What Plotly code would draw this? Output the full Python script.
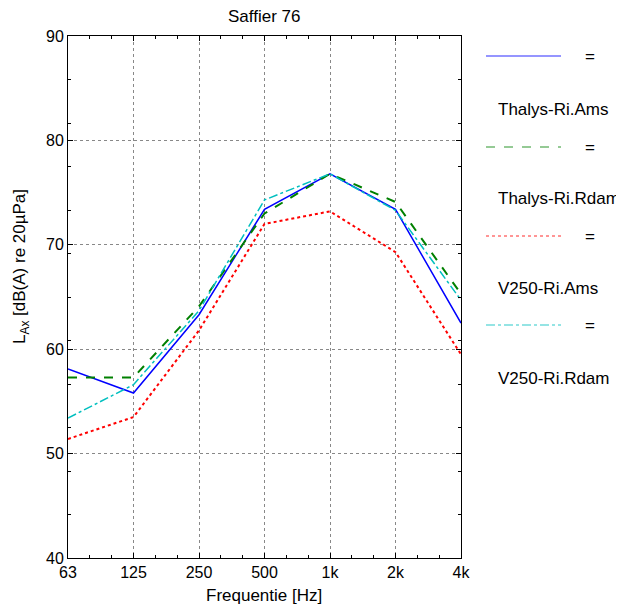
import plotly.graph_objects as go

freq_labels = ["63", "125", "250", "500", "1k", "2k", "4k"]
octave_pos = [0, 1, 2, 3, 4, 5, 6]

thalys_ams = [58.1, 55.8, 63.3, 73.4, 76.8, 73.4, 62.5]
thalys_rdam = [57.3, 57.3, 64.1, 73.0, 76.8, 74.1, 65.3]
v250_ams = [51.4, 53.5, 61.8, 72.0, 73.2, 69.3, 59.5]
v250_rdam = [53.4, 56.6, 63.7, 74.3, 76.8, 73.3, 64.7]

series_names = ["Thalys-Ri.Ams", "Thalys-Ri.Rdam", "V250-Ri.Ams", "V250-Ri.Rdam"]
series_vals = [thalys_ams, thalys_rdam, v250_ams, v250_rdam]
series_colors = ["#0000ff", "#008000", "#ff0000", "#00bfbf"]
series_dash = ["solid", "dash", "dot", "dashdot"]
series_width = [1.5, 2, 2, 1.5]

FONT = "Liberation Sans, Arial, sans-serif"

fig = go.Figure()
for name, vals, col, dash, w in zip(series_names, series_vals, series_colors, series_dash, series_width):
    fig.add_trace(go.Scatter(x=octave_pos, y=vals, mode="lines", name=name,
                             line=dict(color=col, dash=dash, width=w), showlegend=False))

OFF = 8  # page body margin
W, H = 624 - OFF, 608 - OFF
L, R, T, B = 68 - OFF, 461 - OFF, 36 - OFF, 558 - OFF

def px(xp):
    return (xp - OFF - L) / (R - L)

def py(yp):
    return (B - (yp - OFF)) / (B - T)

shapes = []
annotations = []
legend_line_y = [56, 147, 236, 325]
legend_text_y = [110, 199, 288, 378]
for i in range(4):
    shapes.append(dict(type="line", xref="paper", yref="paper",
                       x0=px(486), x1=px(561), y0=py(legend_line_y[i]), y1=py(legend_line_y[i]),
                       line=dict(color=series_colors[i], dash=series_dash[i], width=1.5), opacity=0.55))
    annotations.append(dict(xref="paper", yref="paper", x=px(590), y=py(legend_line_y[i]),
                            text="=", showarrow=False, xanchor="center", yanchor="middle",
                            font=dict(size=17, color="black", family=FONT)))
    annotations.append(dict(xref="paper", yref="paper", x=px(496), y=py(legend_text_y[i]),
                            text=series_names[i], showarrow=False, xanchor="left", yanchor="middle",
                            font=dict(size=17, color="black", family=FONT)))

annotations.append(dict(xref="paper", yref="paper", x=px(21), y=py(267),
                        text="L<sub>Ax</sub> [dB(A) re 20µPa]", textangle=-90, showarrow=False,
                        xanchor="center", yanchor="middle", font=dict(size=17, color="black", family=FONT)))
annotations.append(dict(xref="paper", yref="paper", x=px(264), y=py(17),
                        text="Saffier 76", showarrow=False, xanchor="center", yanchor="middle",
                        font=dict(size=17, color="black", family=FONT)))
annotations.append(dict(xref="paper", yref="paper", x=px(264), y=py(595),
                        text="Frequentie [Hz]", showarrow=False, xanchor="center", yanchor="middle",
                        font=dict(size=17, color="black", family=FONT)))

fig.update_layout(
    width=W, height=H,
    margin=dict(l=L, r=W - R, t=T, b=H - B, pad=0),
    paper_bgcolor="white", plot_bgcolor="white",
    font=dict(family=FONT, size=16, color="black"),
    shapes=shapes, annotations=annotations,
    xaxis=dict(range=[0, 6], tickvals=octave_pos, ticktext=freq_labels, automargin=False,
               showline=True, linecolor="black", linewidth=1, mirror="allticks",
               ticks="inside", ticklen=5, tickcolor="black",
               showgrid=True, gridcolor="#888888", griddash="dot", gridwidth=1,
               zeroline=False,
               minor=dict(dtick=1/3, tick0=0, ticks="inside", ticklen=3, tickcolor="black", showgrid=False),
               tickfont=dict(size=16)),
    yaxis=dict(range=[40, 90], tickvals=[40, 50, 60, 70, 80, 90], automargin=False,
               showline=True, linecolor="black", linewidth=1, mirror="allticks",
               ticks="inside", ticklen=5, tickcolor="black",
               showgrid=True, gridcolor="#888888", griddash="dot", gridwidth=1,
               zeroline=False,
               minor=dict(dtick=25/6, tick0=90, ticks="inside", ticklen=3, tickcolor="black", showgrid=False),
               tickfont=dict(size=16)),
)

fig.write_html("out.html")
